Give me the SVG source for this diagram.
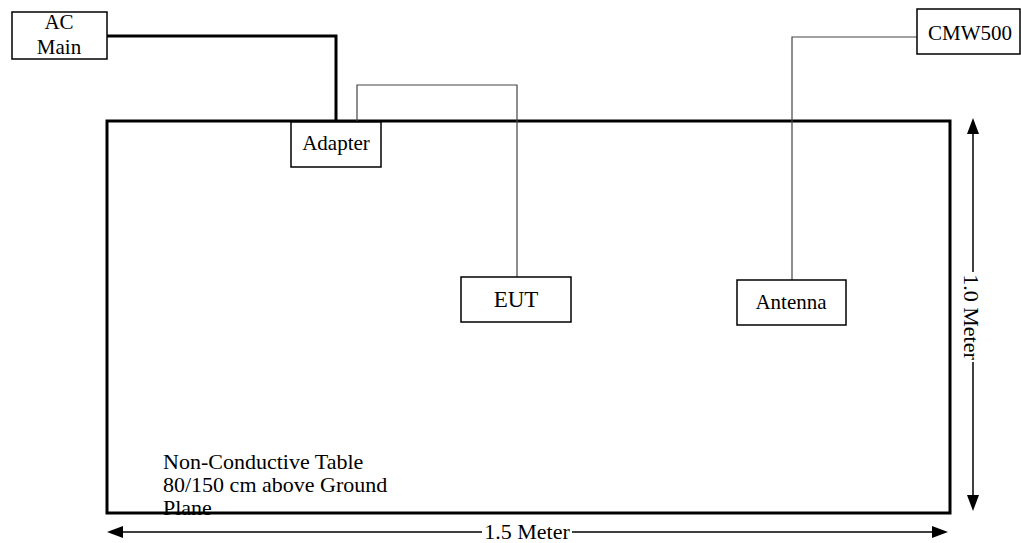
<svg xmlns="http://www.w3.org/2000/svg" width="1021" height="543" viewBox="0 0 1021 543">
<style>
text{font-family:"Liberation Serif","Times New Roman",serif;font-size:21px;fill:#000}
text.note{font-size:22px}
text.dimt{font-size:22px}
text.big{font-size:23px}
.box{fill:#fff;stroke:#000;stroke-width:1.5}
.thin{fill:none;stroke:#444;stroke-width:1.2}
.thick{fill:none;stroke:#000;stroke-width:3}
.dim{fill:none;stroke:#000;stroke-width:1.5}
.arr{fill:#000;stroke:none}
</style>
<rect width="1021" height="543" fill="#fff"/>
<g id="table">
<text class="note" x="163" y="469">Non-Conductive Table</text>
<text class="note" x="163" y="492">80/150 cm above Ground</text>
<text class="note" x="163" y="515">Plane</text>
<rect x="107" y="121" width="843" height="392" class="thick"/>
</g>
<g id="connectors">
<polyline class="thick" points="101,36 336,36 336,121"/>
<polyline class="thin" points="357,121 357,85 517,85 517,277"/>
<polyline class="thin" points="792,280 792,37 917,37"/>
</g>
<g id="ac-main">
<rect x="12" y="12" width="95" height="47" class="box"/>
<text x="59" y="29" text-anchor="middle">AC</text>
<text x="59" y="54" text-anchor="middle">Main</text>
</g>
<g id="adapter">
<rect x="291" y="122" width="90" height="45" class="box"/>
<text x="336" y="150" text-anchor="middle">Adapter</text>
</g>
<g id="eut">
<rect x="461" y="277" width="110" height="45" class="box"/>
<text class="big" x="516" y="307" text-anchor="middle">EUT</text>
</g>
<g id="antenna">
<rect x="737" y="280" width="109" height="45" class="box"/>
<text x="791" y="309" text-anchor="middle">Antenna</text>
</g>
<g id="cmw500">
<rect x="917" y="9" width="103" height="45" class="box"/>
<text x="970" y="40" text-anchor="middle">CMW500</text>
</g>
<g id="dim-width">
<line class="dim" x1="121" y1="532" x2="482" y2="532"/>
<line class="dim" x1="572" y1="532" x2="934" y2="532"/>
<polygon class="arr" points="107,532 123,526 123,538"/>
<polygon class="arr" points="948,532 932,526 932,538"/>
<text class="dimt" x="527" y="539" text-anchor="middle">1.5 Meter</text>
</g>
<g id="dim-height">
<line class="dim" x1="973" y1="132" x2="973" y2="272"/>
<line class="dim" x1="973" y1="362" x2="973" y2="497"/>
<polygon class="arr" points="973,118 967,134 979,134"/>
<polygon class="arr" points="973,511 967,495 979,495"/>
<text class="dimt" transform="translate(964,317) rotate(90)" text-anchor="middle">1.0 Meter</text>
</g>
</svg>
